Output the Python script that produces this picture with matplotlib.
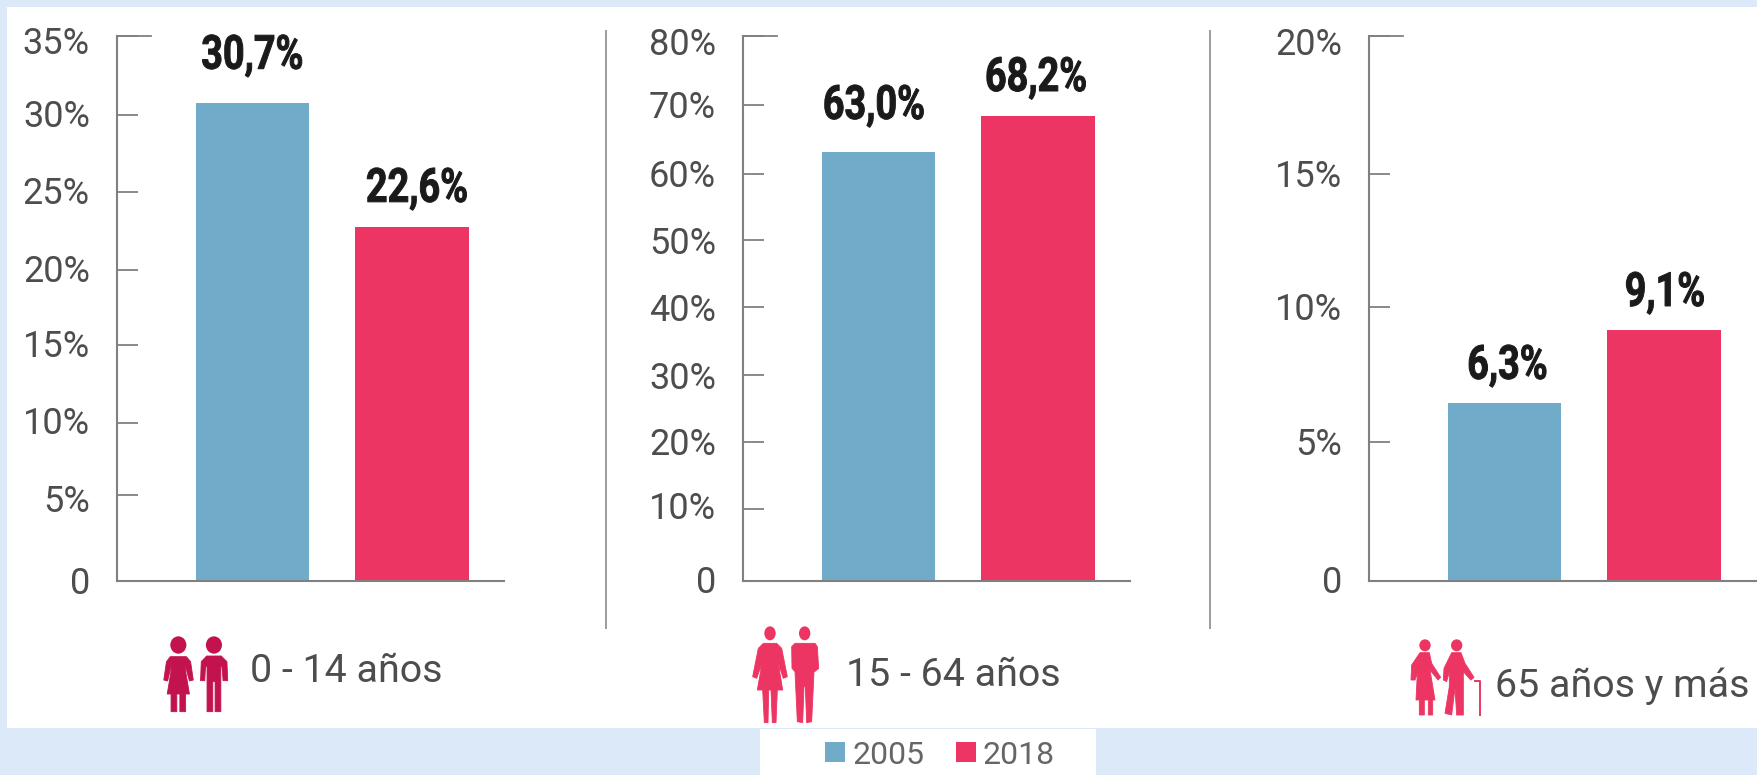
import matplotlib
matplotlib.use("Agg")
import matplotlib.pyplot as plt
from matplotlib.patches import Polygon, Ellipse, Rectangle
from matplotlib.patheffects import AbstractPathEffect
from matplotlib.transforms import Affine2D, ScaledTranslation

# ---- data ----
years = ["2005", "2018"]
young_values = [30.7, 22.75]
adult_values = [63.0, 68.3]
old_values = [6.53, 9.22]
young_labels = ["30,7%", "22,6%"]
adult_labels = ["63,0%", "68,2%"]
old_labels = ["6,3%", "9,1%"]
young_ticks = [0, 5.54, 10.17, 15.13, 20, 24.98, 29.93, 35]
adult_ticks = [0, 10.57, 20.45, 30.3, 40.26, 50.05, 59.75, 69.8, 80]
old_ticks = [0, 5.11, 10.05, 14.94, 20]
young_tick_labels = ["0", "5%", "10%", "15%", "20%", "25%", "30%", "35%"]
adult_tick_labels = ["0", "10%", "20%", "30%", "40%", "50%", "60%", "70%", "80%"]
old_tick_labels = ["0", "5%", "10%", "15%", "20%"]
group_names = ["0 - 14 años", "15 - 64 años", "65 años y más"]

# ---- style ----
W, H = 1758, 775
BG = "#dce9f9"
BLUE = "#70acca"
RED = "#ec3562"
DARKRED = "#c2134f"
GREY = "#808080"
TXT = "#4d4d4d"
INK = "#1a1a1a"

plt.rcParams["font.family"] = ["Roboto", "DejaVu Sans"]

fig = plt.figure(figsize=(W / 100, H / 100), dpi=100, facecolor=BG)


class Condensed(AbstractPathEffect):
    """Squeeze a text horizontally around its centre and thicken its strokes."""

    def __init__(self, factor, stroke):
        super().__init__()
        self.factor = factor
        self.stroke = stroke

    def draw_path(self, renderer, gc, tpath, affine, rgbFace=None):
        box = tpath.transformed(affine).get_extents()
        cx = (box.x0 + box.x1) / 2
        squeezed = affine + Affine2D().translate(-cx, 0).scale(self.factor, 1).translate(cx, 0)
        gc0 = renderer.new_gc()
        gc0.copy_properties(gc)
        gc0.set_linewidth(self.stroke)
        gc0.set_foreground(rgbFace)
        renderer.draw_path(gc0, tpath, squeezed, rgbFace)
        gc0.restore()


# pixel canvas behind the charts
bg = fig.add_axes([0, 0, 1, 1], zorder=0)
bg.set_xlim(0, W)
bg.set_ylim(H, 0)
bg.axis("off")
bg.add_patch(Rectangle((7, 7), W - 7, 721, fc="white", ec="none"))
bg.add_patch(Rectangle((760, 729), 336, 46, fc="white", ec="none"))
for x in (606, 1210):
    bg.plot([x, x], [30, 629], color=GREY, lw=1.1, solid_capstyle="butt")


def draw_icon(ox, oy, sx, sy, color, heads, bodies, head_size):
    for hx, hy in heads:
        bg.add_patch(Ellipse((ox + hx / sx, oy + hy / sy), head_size[0] / sx, head_size[1] / sy, fc=color, ec="none"))
    for body in bodies:
        bg.add_patch(Polygon([(ox + x / sx, oy + y / sy) for x, y in body], closed=True,
                             fc=color, ec=color, lw=0.6, joinstyle="round"))


draw_icon(0, 600, 2.613, 3, DARKRED, [(466, 135), (559, 135)], [
    [(445, 170), (487, 170), (498, 185), (505, 240), (495, 243), (485, 200), (483, 200), (495, 282), (485, 282), (485, 335), (470, 335), (470, 282), (462, 282), (462, 335), (447, 335), (447, 282), (437, 282), (449, 200), (447, 200), (438, 243), (428, 240), (435, 185)],
    [(540, 168), (578, 168), (593, 185), (595, 242), (583, 242), (580, 200), (577, 200), (577, 335), (562, 335), (562, 245), (556, 245), (556, 335), (541, 335), (541, 200), (537, 200), (535, 242), (524, 242), (526, 185)],
], (42, 52))
draw_icon(700, 600, 3, 3, RED, [(210, 100), (314, 100)], [
    [(190, 130), (230, 130), (245, 145), (262, 230), (250, 235), (235, 190), (248, 270), (232, 270), (228, 368), (217, 368), (213, 270), (206, 270), (204, 368), (193, 368), (188, 270), (172, 270), (186, 190), (170, 235), (158, 230), (175, 145)],
    [(285, 130), (345, 130), (352, 140), (356, 205), (344, 215), (342, 215), (335, 365), (320, 368), (316, 260), (312, 260), (308, 368), (292, 365), (285, 215), (276, 205), (275, 140)],
], (34, 42))
draw_icon(1300, 600, 3, 3, RED, [(375, 136), (470, 136)], [
    [(360, 158), (388, 158), (395, 190), (422, 232), (414, 240), (390, 210), (405, 300), (398, 300), (398, 345), (385, 345), (385, 300), (373, 300), (373, 345), (358, 345), (358, 300), (348, 300), (352, 220), (345, 240), (333, 240), (335, 195)],
    [(455, 158), (483, 158), (495, 190), (522, 232), (512, 240), (490, 215), (490, 345), (470, 345), (465, 265), (455, 345), (435, 340), (448, 260), (448, 215), (440, 245), (430, 240), (432, 205)],
], (34, 36))
bg.plot([1300 + 525 / 3, 1300 + 540 / 3, 1300 + 540 / 3], [600 + 243 / 3, 600 + 243 / 3, 600 + 345 / 3], color=RED, lw=1.4)

# group names
for name, x, y in zip(group_names, (250, 846, 1495), (668, 672, 682)):
    bg.text(x, y, name, color=TXT, fontsize=28.4, ha="left", va="center_baseline")

# legend
for year, color, sx, tx in zip(years, (BLUE, RED), (825, 956), (853, 983)):
    bg.add_patch(Rectangle((sx, 742), 20, 20, fc=color, ec="none"))
    bg.text(tx, 752, year, color="#666666", fontsize=23, ha="left", va="center_baseline")


def panel(left, right, values, labels, ticks, tick_labels, label_pads, label_dx, label_shifts):
    ax = fig.add_axes([left / W, 1 - 581 / H, (right - left) / W, (581 - 36) / H], zorder=1)
    ax.patch.set_alpha(0)
    ax.bar([0, 1], values, width=113.5 / 159.5, color=[BLUE, RED])
    ax.set_xlim(-135.5 / 159.5, (right - left - 135.5) / 159.5)
    ax.set_ylim(0, ticks[-1])
    for s in ("top", "right"):
        ax.spines[s].set_visible(False)
    for s in ("left", "bottom"):
        ax.spines[s].set_color(GREY)
        ax.spines[s].set_linewidth(1.5)
    ax.set_xticks([])
    ax.set_yticks(ticks)
    ax.set_yticklabels(tick_labels)
    ax.tick_params(axis="y", length=15, width=1.3, color=GREY, labelcolor=TXT,
                   labelsize=26, pad=19.5, direction="in")
    # the topmost tick is longer
    ax.plot([0, 34 / (right - left)], [1, 1], transform=ax.transAxes, color=GREY, lw=1.3, clip_on=False)
    # some tick labels do not sit level with their ticks
    for lab, shift in zip(ax.get_yticklabels(), label_shifts):
        lab.set_transform(lab.get_transform() + ScaledTranslation(0, -shift / 100, fig.dpi_scale_trans))
    for i, (v, lab) in enumerate(zip(values, labels)):
        ax.annotate(lab, (i, v), xytext=(label_dx[i] * 0.72, (label_pads[i] - 16.8) * 0.72),
                    textcoords="offset points", ha="center", va="baseline", weight="bold",
                    fontsize=34, color=INK, path_effects=[Condensed(0.8, 0.7)])
    return ax


panel(117, 504, young_values, young_labels, young_ticks, young_tick_labels,
      (51, 41.7), (0, 5), (-1, 3, -3, -2, -2, -2, -2, 4))
panel(743, 1130, adult_values, adult_labels, adult_ticks, adult_tick_labels,
      (49.7, 41.5), (-4.5, -2), (-2, -4, -1, 0, 0, 0, -1, -1, 5))
panel(1369, 1758, old_values, old_labels, old_ticks, old_tick_labels,
      (41, 40.6), (3, 1), (-2, -1, -1, -1, 5))

fig.savefig("out.png", dpi=100, facecolor=BG)
